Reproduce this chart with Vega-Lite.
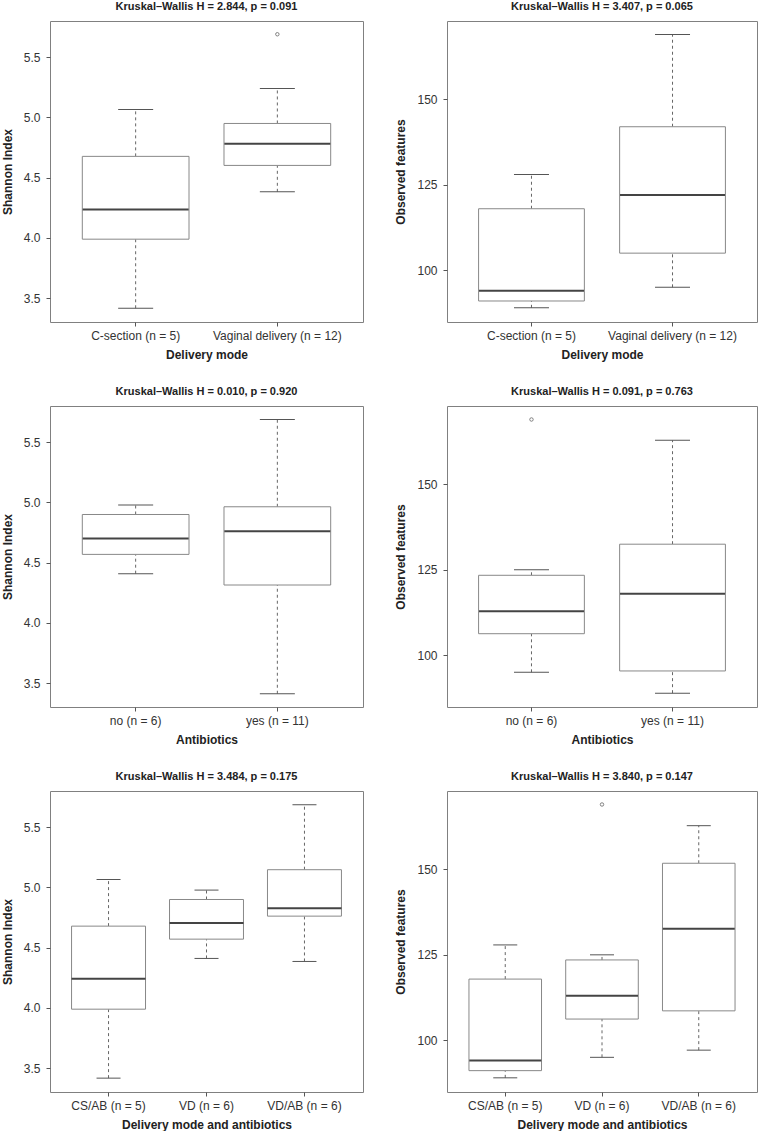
{
  "$schema": "https://vega.github.io/schema/vega-lite/v6.json",
  "padding": {"left": 0, "top": 0, "right": 0, "bottom": 0},
  "background": "white",
  "config": {
    "font": "Liberation Sans",
    "view": {"stroke": "#808080", "strokeWidth": 1},
    "tick": {"opacity": 1},
    "axis": {"domain": false, "grid": false, "tickColor": "#555", "tickSize": 4, "labelFont": "Liberation Sans", "labelFontSize": 12, "labelColor": "#333", "titleFont": "Liberation Sans", "titleFontSize": 12, "titleFontWeight": "bold", "titleColor": "#222"},
    "axisX": {"labelPadding": 4, "titlePadding": 8, "labelAngle": 0},
    "axisY": {"labelPadding": 6, "titlePadding": 9},
    "title": {"fontSize": 11, "fontWeight": "bold", "font": "Liberation Sans", "color": "#222", "offset": 9, "baseline": "alphabetic"}
  },
  "datasets": {
    "p1": [
      {"group": "C-section (n = 5)", "lower": 3.417, "q1": 3.99, "median": 4.237, "q3": 4.677, "upper": 5.065},
      {"group": "Vaginal delivery (n = 12)", "lower": 4.383, "q1": 4.602, "median": 4.781, "q3": 4.95, "upper": 5.24}
    ],
    "p1o": [{"group": "Vaginal delivery (n = 12)", "value": 5.69}],
    "p2": [
      {"group": "C-section (n = 5)", "lower": 89, "q1": 91, "median": 94, "q3": 118, "upper": 128},
      {"group": "Vaginal delivery (n = 12)", "lower": 95, "q1": 105, "median": 122, "q3": 142, "upper": 169}
    ],
    "p2o": [],
    "p3": [
      {"group": "no (n = 6)", "lower": 4.409, "q1": 4.569, "median": 4.70, "q3": 4.90, "upper": 4.978},
      {"group": "yes (n = 11)", "lower": 3.413, "q1": 4.315, "median": 4.762, "q3": 4.964, "upper": 5.688}
    ],
    "p3o": [],
    "p4": [
      {"group": "no (n = 6)", "lower": 95, "q1": 106.3, "median": 112.9, "q3": 123.4, "upper": 125},
      {"group": "yes (n = 11)", "lower": 88.9, "q1": 95.4, "median": 118, "q3": 132.5, "upper": 162.9}
    ],
    "p4o": [{"group": "no (n = 6)", "value": 169}],
    "p5": [
      {"group": "CS/AB (n = 5)", "lower": 3.418, "q1": 3.99, "median": 4.242, "q3": 4.679, "upper": 5.066},
      {"group": "VD (n = 6)", "lower": 4.411, "q1": 4.571, "median": 4.704, "q3": 4.90, "upper": 4.978},
      {"group": "VD/AB (n = 6)", "lower": 4.386, "q1": 4.762, "median": 4.828, "q3": 5.147, "upper": 5.686}
    ],
    "p5o": [],
    "p6": [
      {"group": "CS/AB (n = 5)", "lower": 89, "q1": 91.1, "median": 94.1, "q3": 117.9, "upper": 127.9},
      {"group": "VD (n = 6)", "lower": 95, "q1": 106.2, "median": 113, "q3": 123.5, "upper": 125},
      {"group": "VD/AB (n = 6)", "lower": 97.1, "q1": 108.6, "median": 132.6, "q3": 151.8, "upper": 162.8}
    ],
    "p6o": [{"group": "VD (n = 6)", "value": 169}]
  },
  "columns": 2,
  "spacing": {"row": 24, "column": 30},
  "concat": [
    {
      "width": 313, "height": 301,
      "title": "Kruskal–Wallis H = 2.844, p = 0.091",
      "data": {"name": "p1"},
      "encoding": {"x": {"field": "group", "type": "nominal", "scale": {"domain": ["C-section (n = 5)", "Vaginal delivery (n = 12)"], "paddingInner": 0.247, "paddingOuter": 0.228}, "axis": {"title": "Delivery mode"}}},
      "layer": [
        {"mark": {"type": "rule", "color": "#666", "strokeDash": [3, 3], "strokeWidth": 1}, "encoding": {"y": {"field": "lower", "type": "quantitative", "scale": {"domain": [3.303, 5.8], "nice": false, "zero": false}, "axis": {"title": "Shannon Index", "values": [3.5, 4.0, 4.5, 5.0, 5.5], "format": ".1f"}}, "y2": {"field": "q1"}}},
        {"mark": {"type": "rule", "color": "#666", "strokeDash": [3, 3], "strokeWidth": 1}, "encoding": {"y": {"field": "q3", "type": "quantitative"}, "y2": {"field": "upper"}}},
        {"mark": {"type": "tick", "color": "#555", "size": 35, "thickness": 1}, "encoding": {"y": {"field": "lower", "type": "quantitative"}}},
        {"mark": {"type": "tick", "color": "#555", "size": 35, "thickness": 1}, "encoding": {"y": {"field": "upper", "type": "quantitative"}}},
        {"mark": {"type": "bar", "fill": "white", "stroke": "#888", "strokeWidth": 1}, "encoding": {"y": {"field": "q1", "type": "quantitative"}, "y2": {"field": "q3"}}},
        {"mark": {"type": "tick", "color": "#444", "size": 106, "thickness": 2}, "encoding": {"y": {"field": "median", "type": "quantitative"}}},
        {"data": {"name": "p1o"}, "mark": {"type": "point", "shape": "circle", "filled": false, "size": 12, "color": "#666", "strokeWidth": 0.8, "opacity": 1}, "encoding": {"y": {"field": "value", "type": "quantitative"}}}
      ]
    },
    {
      "width": 310, "height": 301,
      "title": "Kruskal–Wallis H = 3.407, p = 0.065",
      "data": {"name": "p2"},
      "encoding": {"x": {"field": "group", "type": "nominal", "scale": {"domain": ["C-section (n = 5)", "Vaginal delivery (n = 12)"], "paddingInner": 0.25, "paddingOuter": 0.224}, "axis": {"title": "Delivery mode"}}},
      "layer": [
        {"mark": {"type": "rule", "color": "#666", "strokeDash": [3, 3], "strokeWidth": 1}, "encoding": {"y": {"field": "lower", "type": "quantitative", "scale": {"domain": [84.85, 172.95], "nice": false, "zero": false}, "axis": {"title": "Observed features", "values": [100, 125, 150]}}, "y2": {"field": "q1"}}},
        {"mark": {"type": "rule", "color": "#666", "strokeDash": [3, 3], "strokeWidth": 1}, "encoding": {"y": {"field": "q3", "type": "quantitative"}, "y2": {"field": "upper"}}},
        {"mark": {"type": "tick", "color": "#555", "size": 35, "thickness": 1}, "encoding": {"y": {"field": "lower", "type": "quantitative"}}},
        {"mark": {"type": "tick", "color": "#555", "size": 35, "thickness": 1}, "encoding": {"y": {"field": "upper", "type": "quantitative"}}},
        {"mark": {"type": "bar", "fill": "white", "stroke": "#888", "strokeWidth": 1}, "encoding": {"y": {"field": "q1", "type": "quantitative"}, "y2": {"field": "q3"}}},
        {"mark": {"type": "tick", "color": "#444", "size": 105, "thickness": 2}, "encoding": {"y": {"field": "median", "type": "quantitative"}}},
        {"data": {"name": "p2o"}, "mark": {"type": "point", "shape": "circle", "filled": false, "size": 12, "color": "#666", "strokeWidth": 0.8, "opacity": 1}, "encoding": {"y": {"field": "value", "type": "quantitative"}}}
      ]
    },
    {
      "width": 313, "height": 301,
      "title": "Kruskal–Wallis H = 0.010, p = 0.920",
      "data": {"name": "p3"},
      "encoding": {"x": {"field": "group", "type": "nominal", "scale": {"domain": ["no (n = 6)", "yes (n = 11)"], "paddingInner": 0.247, "paddingOuter": 0.228}, "axis": {"title": "Antibiotics"}}},
      "layer": [
        {"mark": {"type": "rule", "color": "#666", "strokeDash": [3, 3], "strokeWidth": 1}, "encoding": {"y": {"field": "lower", "type": "quantitative", "scale": {"domain": [3.303, 5.8], "nice": false, "zero": false}, "axis": {"title": "Shannon Index", "values": [3.5, 4.0, 4.5, 5.0, 5.5], "format": ".1f"}}, "y2": {"field": "q1"}}},
        {"mark": {"type": "rule", "color": "#666", "strokeDash": [3, 3], "strokeWidth": 1}, "encoding": {"y": {"field": "q3", "type": "quantitative"}, "y2": {"field": "upper"}}},
        {"mark": {"type": "tick", "color": "#555", "size": 35, "thickness": 1}, "encoding": {"y": {"field": "lower", "type": "quantitative"}}},
        {"mark": {"type": "tick", "color": "#555", "size": 35, "thickness": 1}, "encoding": {"y": {"field": "upper", "type": "quantitative"}}},
        {"mark": {"type": "bar", "fill": "white", "stroke": "#888", "strokeWidth": 1}, "encoding": {"y": {"field": "q1", "type": "quantitative"}, "y2": {"field": "q3"}}},
        {"mark": {"type": "tick", "color": "#444", "size": 106, "thickness": 2}, "encoding": {"y": {"field": "median", "type": "quantitative"}}},
        {"data": {"name": "p3o"}, "mark": {"type": "point", "shape": "circle", "filled": false, "size": 12, "color": "#666", "strokeWidth": 0.8, "opacity": 1}, "encoding": {"y": {"field": "value", "type": "quantitative"}}}
      ]
    },
    {
      "width": 310, "height": 301,
      "title": "Kruskal–Wallis H = 0.091, p = 0.763",
      "data": {"name": "p4"},
      "encoding": {"x": {"field": "group", "type": "nominal", "scale": {"domain": ["no (n = 6)", "yes (n = 11)"], "paddingInner": 0.25, "paddingOuter": 0.224}, "axis": {"title": "Antibiotics"}}},
      "layer": [
        {"mark": {"type": "rule", "color": "#666", "strokeDash": [3, 3], "strokeWidth": 1}, "encoding": {"y": {"field": "lower", "type": "quantitative", "scale": {"domain": [84.85, 172.95], "nice": false, "zero": false}, "axis": {"title": "Observed features", "values": [100, 125, 150]}}, "y2": {"field": "q1"}}},
        {"mark": {"type": "rule", "color": "#666", "strokeDash": [3, 3], "strokeWidth": 1}, "encoding": {"y": {"field": "q3", "type": "quantitative"}, "y2": {"field": "upper"}}},
        {"mark": {"type": "tick", "color": "#555", "size": 35, "thickness": 1}, "encoding": {"y": {"field": "lower", "type": "quantitative"}}},
        {"mark": {"type": "tick", "color": "#555", "size": 35, "thickness": 1}, "encoding": {"y": {"field": "upper", "type": "quantitative"}}},
        {"mark": {"type": "bar", "fill": "white", "stroke": "#888", "strokeWidth": 1}, "encoding": {"y": {"field": "q1", "type": "quantitative"}, "y2": {"field": "q3"}}},
        {"mark": {"type": "tick", "color": "#444", "size": 105, "thickness": 2}, "encoding": {"y": {"field": "median", "type": "quantitative"}}},
        {"data": {"name": "p4o"}, "mark": {"type": "point", "shape": "circle", "filled": false, "size": 12, "color": "#666", "strokeWidth": 0.8, "opacity": 1}, "encoding": {"y": {"field": "value", "type": "quantitative"}}}
      ]
    },
    {
      "width": 313, "height": 301,
      "title": "Kruskal–Wallis H = 3.484, p = 0.175",
      "data": {"name": "p5"},
      "encoding": {"x": {"field": "group", "type": "nominal", "scale": {"domain": ["CS/AB (n = 5)", "VD (n = 6)", "VD/AB (n = 6)"], "paddingInner": 0.245, "paddingOuter": 0.22}, "axis": {"title": "Delivery mode and antibiotics"}}},
      "layer": [
        {"mark": {"type": "rule", "color": "#666", "strokeDash": [3, 3], "strokeWidth": 1}, "encoding": {"y": {"field": "lower", "type": "quantitative", "scale": {"domain": [3.303, 5.8], "nice": false, "zero": false}, "axis": {"title": "Shannon Index", "values": [3.5, 4.0, 4.5, 5.0, 5.5], "format": ".1f"}}, "y2": {"field": "q1"}}},
        {"mark": {"type": "rule", "color": "#666", "strokeDash": [3, 3], "strokeWidth": 1}, "encoding": {"y": {"field": "q3", "type": "quantitative"}, "y2": {"field": "upper"}}},
        {"mark": {"type": "tick", "color": "#555", "size": 24, "thickness": 1}, "encoding": {"y": {"field": "lower", "type": "quantitative"}}},
        {"mark": {"type": "tick", "color": "#555", "size": 24, "thickness": 1}, "encoding": {"y": {"field": "upper", "type": "quantitative"}}},
        {"mark": {"type": "bar", "fill": "white", "stroke": "#888", "strokeWidth": 1}, "encoding": {"y": {"field": "q1", "type": "quantitative"}, "y2": {"field": "q3"}}},
        {"mark": {"type": "tick", "color": "#444", "size": 74, "thickness": 2}, "encoding": {"y": {"field": "median", "type": "quantitative"}}},
        {"data": {"name": "p5o"}, "mark": {"type": "point", "shape": "circle", "filled": false, "size": 12, "color": "#666", "strokeWidth": 0.8, "opacity": 1}, "encoding": {"y": {"field": "value", "type": "quantitative"}}}
      ]
    },
    {
      "width": 310, "height": 301,
      "title": "Kruskal–Wallis H = 3.840, p = 0.147",
      "data": {"name": "p6"},
      "encoding": {"x": {"field": "group", "type": "nominal", "scale": {"domain": ["CS/AB (n = 5)", "VD (n = 6)", "VD/AB (n = 6)"], "paddingInner": 0.25, "paddingOuter": 0.227}, "axis": {"title": "Delivery mode and antibiotics"}}},
      "layer": [
        {"mark": {"type": "rule", "color": "#666", "strokeDash": [3, 3], "strokeWidth": 1}, "encoding": {"y": {"field": "lower", "type": "quantitative", "scale": {"domain": [84.85, 172.95], "nice": false, "zero": false}, "axis": {"title": "Observed features", "values": [100, 125, 150]}}, "y2": {"field": "q1"}}},
        {"mark": {"type": "rule", "color": "#666", "strokeDash": [3, 3], "strokeWidth": 1}, "encoding": {"y": {"field": "q3", "type": "quantitative"}, "y2": {"field": "upper"}}},
        {"mark": {"type": "tick", "color": "#555", "size": 24, "thickness": 1}, "encoding": {"y": {"field": "lower", "type": "quantitative"}}},
        {"mark": {"type": "tick", "color": "#555", "size": 24, "thickness": 1}, "encoding": {"y": {"field": "upper", "type": "quantitative"}}},
        {"mark": {"type": "bar", "fill": "white", "stroke": "#888", "strokeWidth": 1}, "encoding": {"y": {"field": "q1", "type": "quantitative"}, "y2": {"field": "q3"}}},
        {"mark": {"type": "tick", "color": "#444", "size": 72, "thickness": 2}, "encoding": {"y": {"field": "median", "type": "quantitative"}}},
        {"data": {"name": "p6o"}, "mark": {"type": "point", "shape": "circle", "filled": false, "size": 12, "color": "#666", "strokeWidth": 0.8, "opacity": 1}, "encoding": {"y": {"field": "value", "type": "quantitative"}}}
      ]
    }
  ]
}
